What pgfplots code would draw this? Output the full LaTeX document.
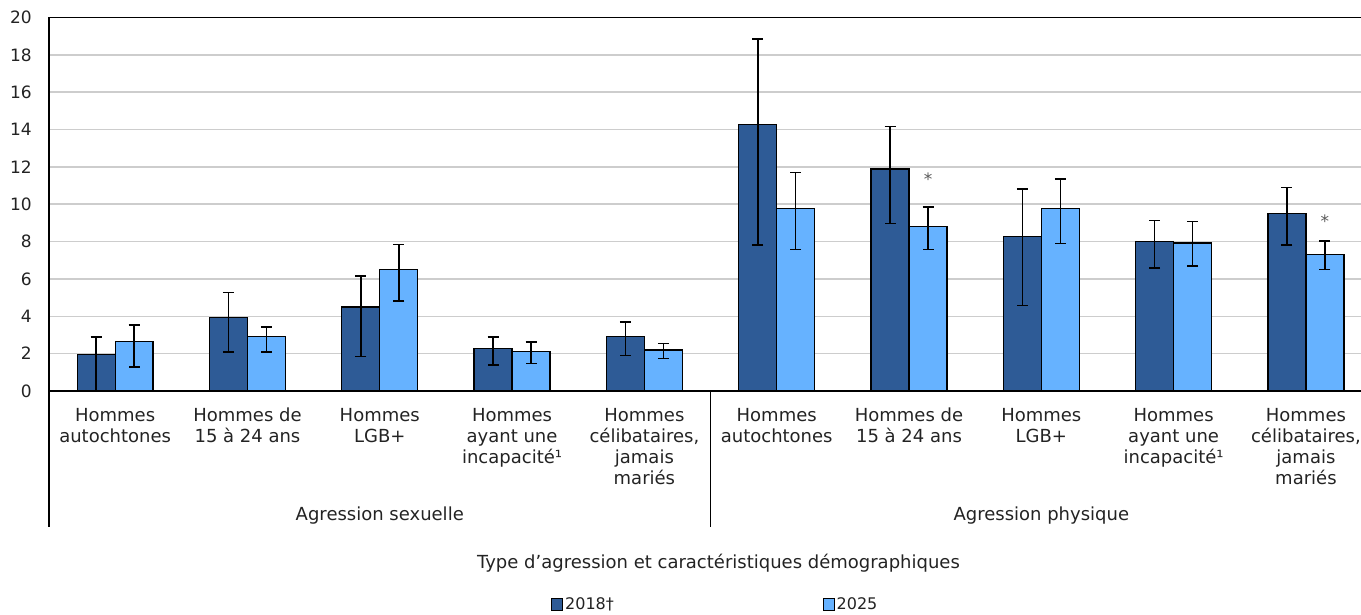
\documentclass[border=0pt]{standalone}
\usepackage{pgfplots}
\pgfplotsset{compat=1.18}
\usepackage{fontspec}
\setmainfont{DejaVu Sans}
\definecolor{darkb}{RGB}{46,91,150}
\definecolor{lightb}{RGB}{102,178,255}
\definecolor{gridg}{RGB}{205,205,205}
\definecolor{txt}{RGB}{35,35,35}
\tikzset{catlab/.style={anchor=north, align=center, inner sep=0pt, font=\fontsize{18}{21}\selectfont, text=txt, yshift=-17pt}}
\begin{document}
\begin{tikzpicture}
\path[use as bounding box] (-49pt,-223pt) rectangle (1312pt,391pt);
\begin{axis}[
  at={(0pt,0pt)}, anchor=south west,
  scale only axis,
  width=1313.5pt, height=373.5pt,
  xmin=-0.5, xmax=9.428,
  ymin=0, ymax=20,
  ytick={0,2,...,20},
  ymajorgrids, grid style={gridg, line width=1.6pt},
  major tick length=0pt,
  xtick={0,...,9},
  xticklabels={},
  ybar=0pt, bar width=0.287,
  axis line style={black, line width=1.4pt},
  clip=false,
  /pgf/number format/assume math mode=true,
  yticklabel style={anchor=east, inner sep=0pt, xshift=-17pt, font=\fontsize{17}{20}\selectfont, text=txt},
  legend style={at={(axis description cs:0.3823,-0.570)}, anchor=west, draw=none, fill=none, inner sep=0pt,
    font=\fontsize{16}{19}\selectfont, text=txt,
    /tikz/every even column/.append style={column sep=207pt}},
  legend columns=2,
  legend image code/.code={\draw[#1, line width=0.8pt, draw=black] (0pt,-6pt) rectangle (11pt,6pt);},
  error bars/y dir=both,
  error bars/y explicit,
  error bars/error bar style={line width=1.6pt, black},
  error bars/error mark options={rotate=90, mark size=5.5pt, line width=1.6pt, black},
]
\addplot[fill=darkb, draw=black, line width=1.3pt] coordinates {
  (0,1.95) += (0,0.95) -= (0,1.95)
  (1,3.95) += (0,1.32) -= (0,1.85)
  (2,4.50) += (0,1.65) -= (0,2.65)
  (3,2.28) += (0,0.62) -= (0,0.90)
  (4,2.90) += (0,0.80) -= (0,1.00)
  (5,14.28) += (0,4.57) -= (0,6.46)
  (6,11.88) += (0,2.28) -= (0,2.92)
  (7,8.28) += (0,2.54) -= (0,3.71)
  (8,8.00) += (0,1.14) -= (0,1.40)
  (9,9.50) += (0,1.40) -= (0,1.68)
};
\addlegendentry{2018†}
\addplot[fill=lightb, draw=black, line width=1.3pt] coordinates {
  (0,2.65) += (0,0.88) -= (0,1.35)
  (1,2.90) += (0,0.52) -= (0,0.80)
  (2,6.50) += (0,1.35) -= (0,1.67)
  (3,2.10) += (0,0.53) -= (0,0.63)
  (4,2.20) += (0,0.35) -= (0,0.46)
  (5,9.78) += (0,1.92) -= (0,2.21)
  (6,8.80) += (0,1.06) -= (0,1.23)
  (7,9.78) += (0,1.57) -= (0,1.88)
  (8,7.93) += (0,1.14) -= (0,1.25)
  (9,7.30) += (0,0.72) -= (0,0.80)
};
\addlegendentry{2025}
% significance markers
\node[anchor=base, font=\fontsize{17}{20}\selectfont, text=black!65] at (axis cs:6.144,10.98) {*};
\node[anchor=base, font=\fontsize{17}{20}\selectfont, text=black!65] at (axis cs:9.144,8.74) {*};
% category labels
\node[catlab] at (axis cs:0,0) {Hommes\\autochtones};
\node[catlab] at (axis cs:1,0) {Hommes de\\15 à 24 ans};
\node[catlab] at (axis cs:2,0) {Hommes\\LGB+};
\node[catlab] at (axis cs:3,0) {Hommes\\ayant une\\incapacité¹};
\node[catlab] at (axis cs:4,0) {Hommes\\célibataires,\\jamais\\mariés};
\node[catlab] at (axis cs:5,0) {Hommes\\autochtones};
\node[catlab] at (axis cs:6,0) {Hommes de\\15 à 24 ans};
\node[catlab] at (axis cs:7,0) {Hommes\\LGB+};
\node[catlab] at (axis cs:8,0) {Hommes\\ayant une\\incapacité¹};
\node[catlab] at (axis cs:9,0) {Hommes\\célibataires,\\jamais\\mariés};
\draw[black, line width=1.4pt] (axis cs:-0.5,0) -- ([yshift=-136pt]axis cs:-0.5,0);
\draw[black, line width=1.1pt] (axis cs:4.5,0) -- ([yshift=-136pt]axis cs:4.5,0);
\node[anchor=base, font=\fontsize{18}{21}\selectfont, text=txt] at (axis cs:2,0) [yshift=-129.5pt] {Agression sexuelle};
\node[anchor=base, font=\fontsize{18}{21}\selectfont, text=txt] at (axis cs:7,0) [yshift=-129.5pt] {Agression physique};
\node[anchor=base, font=\fontsize{18}{21}\selectfont, text=txt] at (axis cs:4.56,0) [yshift=-177pt] {Type d’agression et caractéristiques démographiques};
\end{axis}
\end{tikzpicture}
\end{document}
